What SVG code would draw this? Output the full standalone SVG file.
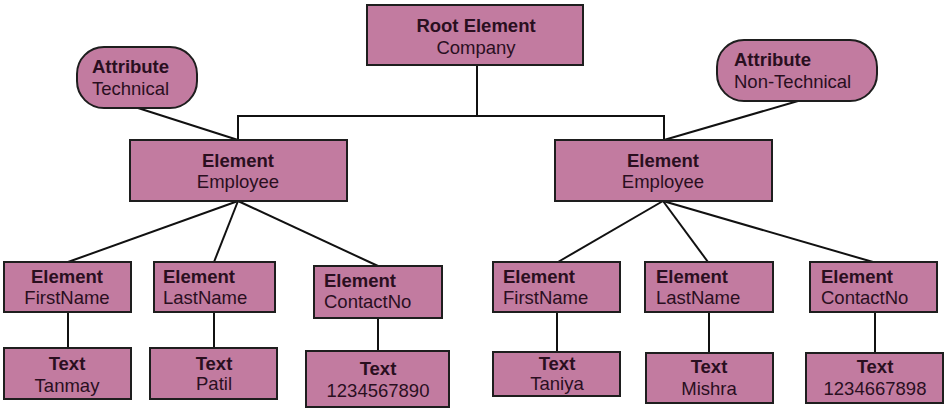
<svg xmlns="http://www.w3.org/2000/svg" width="947" height="412" viewBox="0 0 947 412">
<style>
.box{fill:#c27ba0;stroke:#1e1e1e;stroke-width:2}
.lbl{font-family:"Liberation Sans",Arial,sans-serif;font-size:18.5px;fill:#2a0f1f}
.b{font-weight:bold}
.c{text-anchor:middle}
.conn line,.conn polyline{stroke:#111;stroke-width:2;fill:none}
</style>
<rect width="947" height="412" fill="#ffffff"/>
<g class="conn" id="connectors">
<line x1="477" y1="65" x2="477" y2="116"/>
<polyline points="238,140 238,116 664,116 664,140"/>
<line x1="138" y1="108" x2="238" y2="140"/>
<line x1="798" y1="101" x2="664" y2="140"/>
<line x1="238" y1="201" x2="68" y2="262"/>
<line x1="238" y1="201" x2="214" y2="262"/>
<line x1="238" y1="201" x2="378" y2="266"/>
<line x1="663" y1="201" x2="558" y2="262"/>
<line x1="663" y1="201" x2="708" y2="262"/>
<line x1="663" y1="201" x2="873" y2="262"/>
<line x1="68" y1="312" x2="68" y2="348"/>
<line x1="214" y1="312" x2="214" y2="348"/>
<line x1="378" y1="318" x2="378" y2="351"/>
<line x1="557" y1="312" x2="557" y2="352"/>
<line x1="709" y1="312" x2="709" y2="353"/>
<line x1="875" y1="312" x2="875" y2="353"/>
</g>
<g id="root">
<rect class="box" x="367" y="5" width="216" height="60"/>
<text class="lbl b c" x="476" y="32">Root Element</text>
<text class="lbl c" x="476" y="54">Company</text>
</g>
<g id="attr-tech">
<rect class="box" x="77" y="47" width="120" height="61" rx="27"/>
<text class="lbl b" x="92" y="73">Attribute</text>
<text class="lbl" x="92" y="95">Technical</text>
</g>
<g id="attr-nontech">
<rect class="box" x="717" y="40" width="160" height="61" rx="27"/>
<text class="lbl b" x="734" y="66">Attribute</text>
<text class="lbl" x="734" y="88">Non-Technical</text>
</g>
<g id="emp1">
<rect class="box" x="130" y="140" width="217" height="61"/>
<text class="lbl b c" x="238" y="167">Element</text>
<text class="lbl c" x="238" y="188">Employee</text>
</g>
<g id="emp2">
<rect class="box" x="555" y="140" width="217" height="61"/>
<text class="lbl b c" x="663" y="167">Element</text>
<text class="lbl c" x="663" y="188">Employee</text>
</g>
<g id="fn1">
<rect class="box" x="4" y="262" width="127" height="50"/>
<text class="lbl b c" x="67" y="283">Element</text>
<text class="lbl c" x="67" y="304">FirstName</text>
</g>
<g id="ln1">
<rect class="box" x="154" y="262" width="121" height="50"/>
<text class="lbl b" x="163" y="283">Element</text>
<text class="lbl" x="163" y="304">LastName</text>
</g>
<g id="cn1">
<rect class="box" x="314" y="266" width="128" height="52"/>
<text class="lbl b" x="324" y="287">Element</text>
<text class="lbl" x="324" y="308">ContactNo</text>
</g>
<g id="t1">
<rect class="box" x="4" y="348" width="127" height="51"/>
<text class="lbl b c" x="67" y="370">Text</text>
<text class="lbl c" x="67" y="392">Tanmay</text>
</g>
<g id="t2">
<rect class="box" x="150" y="348" width="127" height="51"/>
<text class="lbl b c" x="214" y="370">Text</text>
<text class="lbl c" x="214" y="390">Patil</text>
</g>
<g id="t3">
<rect class="box" x="306" y="351" width="143" height="56"/>
<text class="lbl b c" x="378" y="375">Text</text>
<text class="lbl c" x="378" y="397">1234567890</text>
</g>
<g id="fn2">
<rect class="box" x="493" y="262" width="127" height="50"/>
<text class="lbl b" x="503" y="283">Element</text>
<text class="lbl" x="503" y="304">FirstName</text>
</g>
<g id="ln2">
<rect class="box" x="645" y="262" width="128" height="50"/>
<text class="lbl b" x="656" y="283">Element</text>
<text class="lbl" x="656" y="304">LastName</text>
</g>
<g id="cn2">
<rect class="box" x="810" y="262" width="127" height="50"/>
<text class="lbl b" x="821" y="283">Element</text>
<text class="lbl" x="821" y="304">ContactNo</text>
</g>
<g id="t4">
<rect class="box" x="493" y="352" width="127" height="44"/>
<text class="lbl b c" x="557" y="370">Text</text>
<text class="lbl c" x="557" y="390">Taniya</text>
</g>
<g id="t5">
<rect class="box" x="646" y="353" width="127" height="50"/>
<text class="lbl b c" x="709" y="373">Text</text>
<text class="lbl c" x="709" y="395">Mishra</text>
</g>
<g id="t6">
<rect class="box" x="806" y="353" width="137" height="50"/>
<text class="lbl b c" x="875" y="373">Text</text>
<text class="lbl c" x="875" y="395">1234667898</text>
</g>
</svg>
